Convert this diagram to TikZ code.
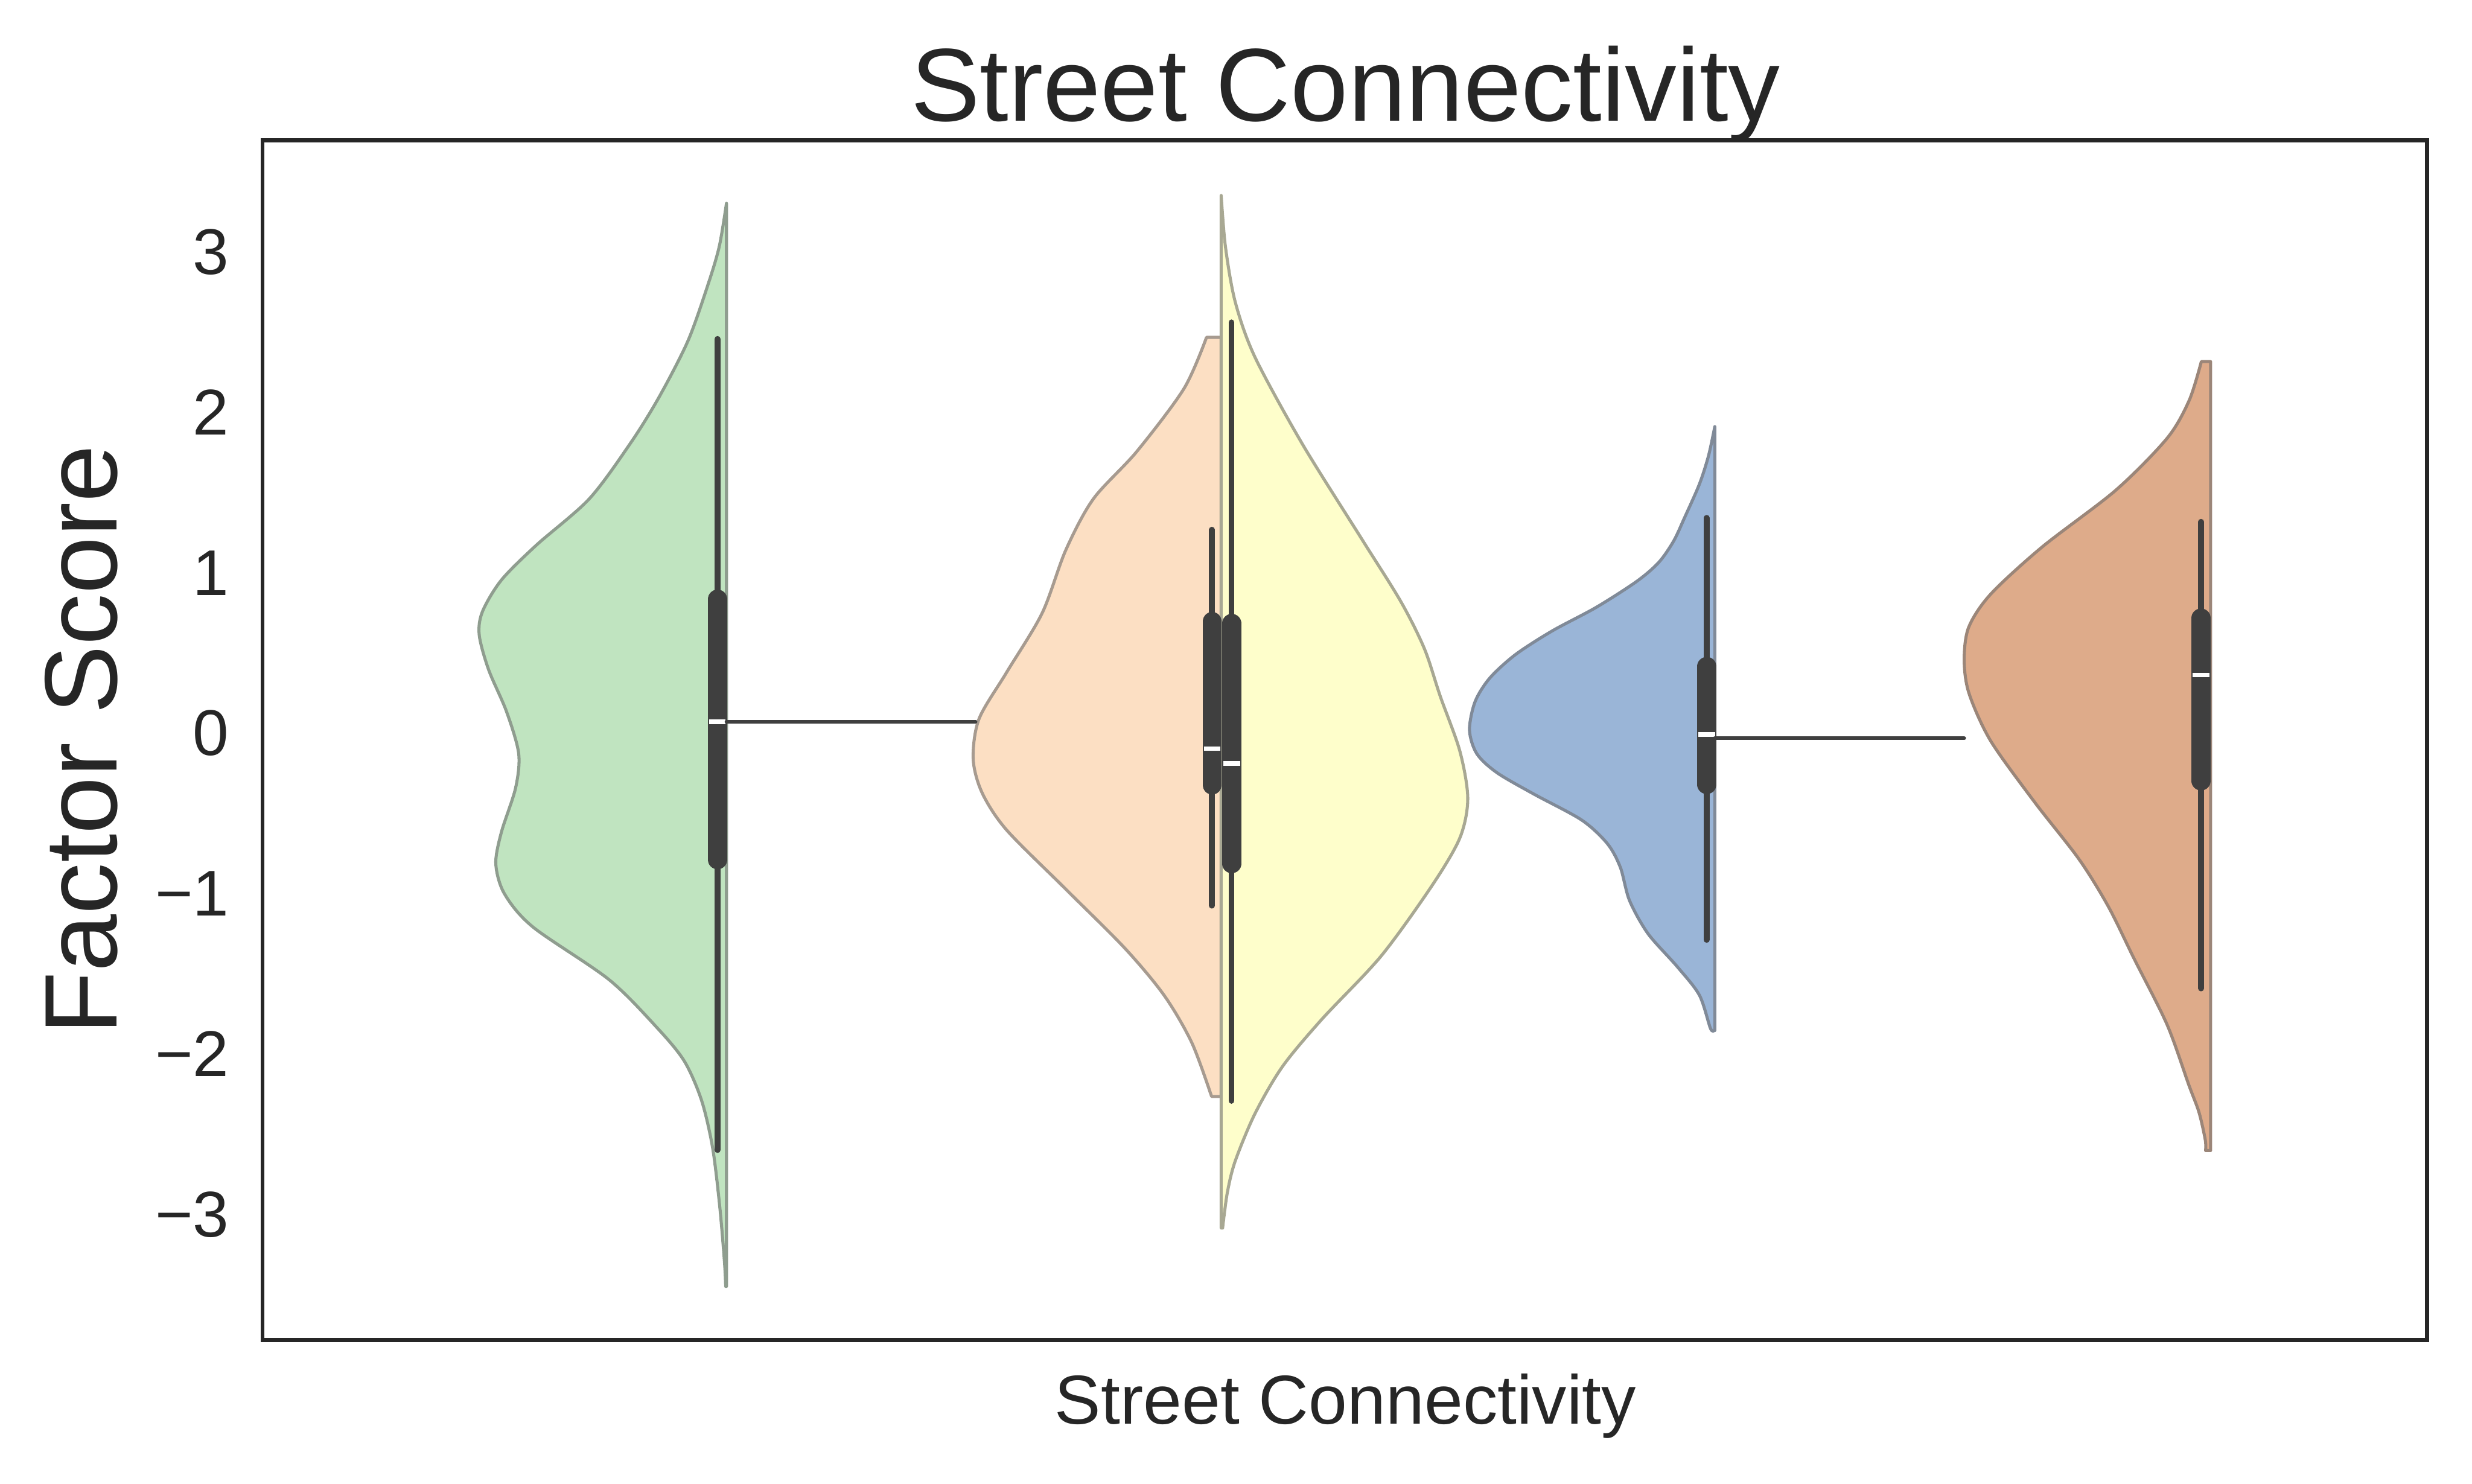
\documentclass[tikz,border=0pt]{standalone}
\usepackage{fontspec}
\setmainfont{Liberation Sans}
\definecolor{txt}{HTML}{262626}
\definecolor{vgreen}{HTML}{C0E4C0}
\definecolor{vpeach}{HTML}{FCDFC3}
\definecolor{vyellow}{HTML}{FEFECB}
\definecolor{vblue}{HTML}{9AB5D7}
\definecolor{vorange}{HTML}{DEAB8A}
\definecolor{inner}{HTML}{3F3F3F}
\definecolor{edgegray}{HTML}{6E6E6E}
\begin{document}
\begin{tikzpicture}[x=0.1mm,y=-0.1mm,
  vio/.style={fill=#1, draw=#1!40!edgegray, line width=0.55pt, line join=round},
  whisk/.style={draw=inner, line width=1.05pt, line cap=round},
  boxln/.style={draw=inner, line width=3.47pt, line cap=round},
  medln/.style={draw=white, line width=0.8pt},
  link/.style={draw=inner, line width=0.65pt, line cap=round},
  lab/.style={text=txt, inner sep=0pt},
  tick/.style={lab, anchor=base east, font=\fontsize{11.67pt}{14pt}\selectfont}]
\useasboundingbox (0,0) rectangle (1568,941);
\fill[white] (0,0) rectangle (1568,941);

% green violin
\path[vio=vgreen] (460.8,129) -- plot[smooth] coordinates {(460.8,129) (456.2,156.5) (448.8,181.4) (436.3,216.4) (418,252) (400,281) (373.8,316.4) (340,346) (318,368) (306,388) (304,403) (310,425) (321.3,451.4) (329,478) (327,500) (318,528) (314.5,548) (320,567) (338,588) (386.3,621.4) (416.3,651.4) (434,673) (445,698) (452,728) (456.5,765) (459.5,800) (460.3,816)} -- (460.8,816) -- cycle;

% peach violin
\path[vio=vpeach] (774.6,214) -- (765.3,214) -- plot[smooth] coordinates {(765.3,214) (751,246.5) (721,286.5) (693.5,316.5) (676,349) (661,389) (638.5,426.5) (621,456) (617.3,481.5) (623,503) (638.5,526.5) (676,564) (713.5,601.5) (738.5,631.5) (756,661.5) (768.5,695.5)} -- (774.6,695.5) -- cycle;

% yellow violin
\path[vio=vyellow] (774.6,124) -- plot[smooth] coordinates {(774.6,124) (777.3,156.5) (783.5,191.5) (796,226.5) (826,281.5) (863.5,341.5) (888.5,381.5) (903.5,411.5) (913.5,441.5) (926,476.5) (931,506.5) (926,531.5) (908.5,561.5) (876,606.5) (838.5,646.5) (813.5,676.5) (796,706.5) (783.5,736.5) (778.5,756.5) (775.5,779)} -- (774.6,779) -- cycle;

% blue violin
\path[vio=vblue] (1087.7,270.6) -- plot[smooth] coordinates {(1087.7,270.6) (1083.7,289.2) (1077.9,307.2) (1068.6,328.2) (1061.6,343.2) (1052.2,356.7) (1038.3,368.7) (1012.6,385.2) (984.6,400.2) (961.3,415.2) (944.9,430.2) (935.6,445.2) (932.1,463.2) (936.8,478.2) (949.6,490.2) (972.9,503.7) (1003.3,520.2) (1019.6,535.2) (1027.8,550.2) (1033.6,571.2) (1045.3,592.2) (1063.9,613.2) (1077.9,631.2) (1084.9,652.2) (1087.2,653.7)} -- (1087.7,653.7) -- cycle;

% orange violin
\path[vio=vorange] (1402.2,229.4) -- (1396.3,229.4) -- plot[smooth] coordinates {(1396.3,229.4) (1388.6,254) (1374.6,278) (1342,311) (1295.3,347) (1262.6,377) (1248.7,398) (1245.9,419) (1249,440) (1262.7,470) (1290.7,509) (1318.7,545) (1337.3,575) (1353.6,608) (1374.6,650) (1388.3,688) (1394.8,705.5) (1398.8,723) (1399,729.8)} -- (1402.2,729.8) -- cycle;

% inner boxes
\draw[whisk] (455.1,215) -- (455.1,729.5);
\draw[boxln] (455.1,380.1) -- (455.1,545.3);
\draw[whisk] (768.8,336) -- (768.8,574.5);
\draw[boxln] (768.9,394.3) -- (768.9,497.9);
\draw[whisk] (781.1,204.5) -- (781.1,698.3);
\draw[boxln] (781.3,395.5) -- (781.3,547.8);
\draw[whisk] (1082.5,328.5) -- (1082.5,596.2);
\draw[boxln] (1082.6,422.8) -- (1082.6,497.6);
\draw[whisk] (1396.2,331) -- (1396.2,627);
\draw[boxln] (1396.1,392.1) -- (1396.1,495.3);

% medians
\draw[medln] (449.8,457.8) -- (460.3,457.8);
\draw[medln] (763.7,474.8) -- (774,474.8);
\draw[medln] (776,484.2) -- (786.5,484.2);
\draw[medln] (1077.4,465.9) -- (1087.8,465.9);
\draw[medln] (1390.9,428.3) -- (1401.3,428.3);

% connectors
\coordinate (gmed) at (460.8,457.8);
\coordinate (pleft) at (618.8,457.8);
\coordinate (bmed) at (1087.7,468.3);
\coordinate (oleft) at (1245.9,468.3);
\draw[link] (gmed) -- (pleft);
\draw[link] (bmed) -- (oleft);

% axes frame
\draw[txt, line width=0.7pt] (166.5,89) rectangle (1539.5,850);

% ticks
\foreach \v/\t in {3/3,2/2,1/1,0/0,-1/−1,-2/−2,-3/−3}{
  \node[tick] (tk\v) at (146,{464.65-101.75*\v+14.6}) {\t};
}

% labels
\node[lab, anchor=base, font=\fontsize{18.7pt}{22pt}\selectfont] (title) at (853.5,76.6) {Street Connectivity};
\node[lab, anchor=base, font=\fontsize{12.5pt}{15pt}\selectfont] (xlab) at (853.5,903.2) {Street Connectivity};
\node[lab, anchor=base, rotate=90, font=\fontsize{18.6pt}{22pt}\selectfont] (ylab) at (74.2,469.3) {Factor Score};
\end{tikzpicture}
\end{document}
